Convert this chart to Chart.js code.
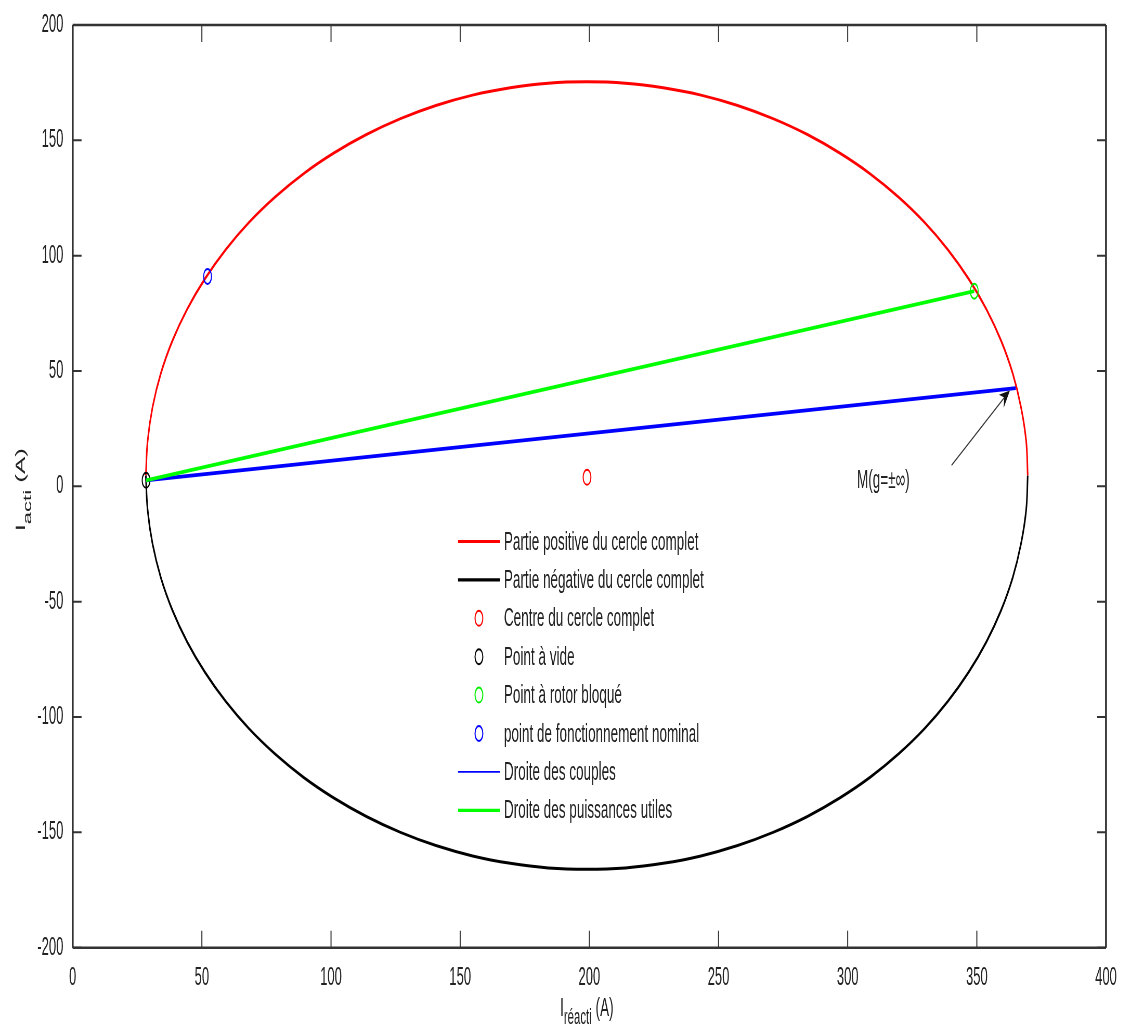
<!DOCTYPE html>
<html>
<head>
<meta charset="utf-8">
<script src="https://cdn.jsdelivr.net/npm/chart.js@4.4.1/dist/chart.umd.min.js"></script>
<style>
  html, body { margin: 0; padding: 0; background: #ffffff; overflow: hidden; }
  #wrap { width: 1121px; height: 1027px; overflow: hidden; position: relative; }
  #c { position: absolute; left: 0; top: 0; transform-origin: 0 0; transform: scaleX(0.52); }
</style>
</head>
<body>
<div id="wrap"><canvas id="c" width="2156" height="1027"></canvas></div>
<script>
// ---------- data ----------
const upperArcX = [28.3, 29.0, 30.9, 34.1, 38.6, 44.3, 51.2, 59.2, 68.2, 78.3, 89.3, 101.1, 113.7, 126.9, 140.6, 154.8, 169.4, 184.1, 199.0,
                   213.9, 228.6, 243.2, 257.4, 271.1, 284.4, 296.9, 308.7, 319.7, 329.8, 338.8, 346.8, 353.7, 359.4, 363.9, 367.1, 369.1, 369.7];
const upperArcY = [4.7, 19.6, 34.3, 48.9, 63.1, 76.8, 90.0, 102.6, 114.4, 125.4, 135.5, 144.5, 152.5, 159.4, 165.1, 169.6, 172.8, 174.8, 175.4,
                   174.8, 172.8, 169.6, 165.1, 159.4, 152.5, 144.5, 135.5, 125.4, 114.4, 102.6, 90.0, 76.8, 63.1, 48.9, 34.3, 19.6, 4.7];
const lowerArcX = [28.3, 29.0, 30.9, 34.1, 38.6, 44.3, 51.2, 59.2, 68.2, 78.3, 89.3, 101.1, 113.7, 126.9, 140.6, 154.8, 169.4, 184.1, 199.0,
                   213.9, 228.6, 243.2, 257.4, 271.1, 284.4, 296.9, 308.7, 319.7, 329.8, 338.8, 346.8, 353.7, 359.4, 363.9, 367.1, 369.1, 369.7];
const lowerArcY = [4.7, -10.2, -24.9, -39.5, -53.7, -67.4, -80.6, -93.2, -105.0, -116.0, -126.1, -135.1, -143.1, -150.0, -155.7, -160.2, -163.4, -165.4, -166.0,
                   -165.4, -163.4, -160.2, -155.7, -150.0, -143.1, -135.1, -126.1, -116.0, -105.0, -93.2, -80.6, -67.4, -53.7, -39.5, -24.9, -10.2, 4.7];

const centrePoint = [199.1, 3.9];
const noLoadPoint = [28.4, 2.6];
const lockedRotorPoint = [349.0, 84.6];
const nominalPoint = [52.2, 91.0];
const torqueLineEnd = [365.1, 42.6];

const legendLabels = [
  'Partie positive du cercle complet',
  'Partie négative du cercle complet',
  'Centre du cercle complet',
  'Point à vide',
  'Point à rotor bloqué',
  'point de fonctionnement nominal',
  'Droite des couples',
  'Droite des puissances utiles'
];

const xTickValues = [0, 50, 100, 150, 200, 250, 300, 350, 400];
const xTickLabels = ['0', '50', '100', '150', '200', '250', '300', '350', '400'];
const yTickValues = [-200, -150, -100, -50, 0, 50, 100, 150, 200];
const yTickLabels = ['-200', '-150', '-100', '-50', '0', '50', '100', '150', '200'];

const annotationText = 'M(g=±∞)';
const annotationTextPos = [303.6, 2.2];
const arrowTail = [340.2, 9.1];
const arrowHead = [362.8, 41.6];

const xTitleMain = 'I', xTitleSub = 'réacti', xTitleUnit = ' (A)';
const yTitleMain = 'I', yTitleSub = 'acti', yTitleUnit = ' (A)';

// ---------- build ----------
const zip = (xs, ys) => xs.map((v, i) => ({ x: v, y: ys[i] }));
const pt = p => [{ x: p[0], y: p[1] }];

const FONT = '"Liberation Sans", Arial, sans-serif';
const TXT = '#222222';
const AX = '#333333';

function lineDs(label, data, color, width, legendWidth, order, tension) {
  return { label, data, showLine: true, borderColor: color, backgroundColor: color,
    borderWidth: width, legendLineWidth: legendWidth, pointRadius: 0, pointHoverRadius: 0,
    tension: tension, fill: false, order };
}
function markerDs(label, data, color, order) {
  return { label, data, showLine: false, pointStyle: 'circle', pointRadius: 7.5,
    pointHoverRadius: 7.5, pointBorderWidth: 2, pointBorderColor: color,
    pointBackgroundColor: 'rgba(0,0,0,0)', borderColor: color, order };
}

const datasets = [
  lineDs(legendLabels[0], zip(upperArcX, upperArcY), '#ff0000', 3, 3.2, 8, 0.4),
  lineDs(legendLabels[1], zip(lowerArcX, lowerArcY), '#000000', 3, 3.2, 7, 0.4),
  markerDs(legendLabels[2], pt(centrePoint), '#ff0000', 6),
  markerDs(legendLabels[3], pt(noLoadPoint), '#000000', 5),
  markerDs(legendLabels[4], pt(lockedRotorPoint), '#00ee00', 4),
  markerDs(legendLabels[5], pt(nominalPoint), '#0000ff', 3),
  lineDs(legendLabels[6], [pt(noLoadPoint)[0], pt(torqueLineEnd)[0]], '#0000ff', 3.8, 1.6, 2, 0),
  lineDs(legendLabels[7], [pt(noLoadPoint)[0], pt(lockedRotorPoint)[0]], '#00ff00', 3.8, 3.2, 1, 0)
];

const TL = 17; // tick length (canvas px)

const decor = {
  id: 'decor',
  beforeDraw(chart) {
    const ctx = chart.ctx;
    ctx.save(); ctx.fillStyle = '#ffffff';
    ctx.fillRect(0, 0, chart.width, chart.height); ctx.restore();
  },
  beforeDatasetsDraw(chart) {
    const { ctx, chartArea: a, scales: { x, y } } = chart;
    ctx.save();
    ctx.strokeStyle = AX; ctx.lineWidth = 2;
    ctx.beginPath();
    xTickValues.forEach(v => {
      const px = x.getPixelForValue(v);
      ctx.moveTo(px, a.bottom); ctx.lineTo(px, a.bottom - TL);
      ctx.moveTo(px, a.top); ctx.lineTo(px, a.top + TL);
    });
    yTickValues.forEach(v => {
      const py = y.getPixelForValue(v);
      ctx.moveTo(a.left, py); ctx.lineTo(a.left + TL, py);
      ctx.moveTo(a.right, py); ctx.lineTo(a.right - TL, py);
    });
    ctx.stroke();
    // frame
    ctx.lineWidth = 2.6;
    ctx.beginPath();
    ctx.moveTo(a.left, a.top); ctx.lineTo(a.right, a.top);
    ctx.moveTo(a.left, a.bottom); ctx.lineTo(a.right, a.bottom);
    ctx.stroke();
    ctx.lineWidth = 3.6;
    ctx.beginPath();
    ctx.moveTo(a.left, a.top); ctx.lineTo(a.left, a.bottom);
    ctx.moveTo(a.right, a.top); ctx.lineTo(a.right, a.bottom);
    ctx.stroke();
    ctx.restore();
  },
  afterDatasetsDraw(chart) {
    const { ctx, scales: { x, y } } = chart;
    ctx.save();
    // ----- legend -----
    const LX0 = 880.8, LX1 = 961.5, LXM = 921, LTX = 969, LTOP = 541.5, LSTEP = 38.4;
    ctx.font = '26px ' + FONT; ctx.textBaseline = 'middle'; ctx.textAlign = 'left';
    chart.data.datasets.forEach((ds, i) => {
      const yy = LTOP + i * LSTEP;
      if (ds.showLine) {
        ctx.strokeStyle = ds.borderColor; ctx.lineWidth = ds.legendLineWidth;
        ctx.beginPath(); ctx.moveTo(LX0, yy); ctx.lineTo(LX1, yy); ctx.stroke();
      } else {
        ctx.strokeStyle = ds.pointBorderColor; ctx.lineWidth = ds.pointBorderWidth;
        ctx.beginPath(); ctx.arc(LXM, yy, ds.pointRadius, 0, Math.PI * 2); ctx.stroke();
      }
      ctx.fillStyle = TXT;
      ctx.fillText(ds.label, LTX, yy + 1);
    });
    // ----- annotation arrow -----
    const tx = x.getPixelForValue(arrowTail[0]), ty = y.getPixelForValue(arrowTail[1]);
    const hx = x.getPixelForValue(arrowHead[0]), hy = y.getPixelForValue(arrowHead[1]);
    const dx = hx - tx, dy = hy - ty, len = Math.hypot(dx, dy);
    const ux = dx / len, uy = dy / len, nx = -uy, ny = ux;
    const AL = 20, AW = 8;
    ctx.strokeStyle = '#333333'; ctx.lineWidth = 1.6;
    ctx.beginPath(); ctx.moveTo(tx, ty); ctx.lineTo(hx - ux * AL * 0.6, hy - uy * AL * 0.6); ctx.stroke();
    ctx.fillStyle = '#111111';
    ctx.beginPath();
    ctx.moveTo(hx, hy);
    ctx.lineTo(hx - ux * AL + nx * AW, hy - uy * AL + ny * AW);
    ctx.lineTo(hx - ux * AL * 0.65, hy - uy * AL * 0.65);
    ctx.lineTo(hx - ux * AL - nx * AW, hy - uy * AL - ny * AW);
    ctx.closePath(); ctx.fill();
    ctx.fillStyle = TXT; ctx.font = '26px ' + FONT; ctx.textBaseline = 'middle'; ctx.textAlign = 'left';
    ctx.fillText(annotationText, x.getPixelForValue(annotationTextPos[0]), y.getPixelForValue(annotationTextPos[1]));
    ctx.restore();
  },
  afterDraw(chart) {
    const { ctx, scales: { x, y } } = chart;
    ctx.save();
    ctx.fillStyle = TXT; ctx.textAlign = 'left'; ctx.textBaseline = 'alphabetic';
    // x title
    let cx = x.getPixelForValue(200) - 56.3;
    ctx.font = '26px ' + FONT; ctx.fillText(xTitleMain, cx, 1016); cx += ctx.measureText(xTitleMain).width;
    ctx.font = '22px ' + FONT; ctx.fillText(xTitleSub, cx, 1024); cx += ctx.measureText(xTitleSub).width;
    ctx.font = '26px ' + FONT; ctx.fillText(xTitleUnit, cx, 1016);
    // y title (rotated)
    ctx.translate(48, y.getPixelForValue(0) + 45);
    ctx.rotate(-Math.PI / 2);
    let cy = 0;
    ctx.font = '26px ' + FONT; ctx.fillText(yTitleMain, cy, 0); cy += ctx.measureText(yTitleMain).width;
    ctx.font = '22px ' + FONT; ctx.fillText(yTitleSub, cy, 12); cy += ctx.measureText(yTitleSub).width;
    ctx.font = '26px ' + FONT; ctx.fillText(yTitleUnit, cy, 0);
    ctx.restore();
  }
};

new Chart(document.getElementById('c'), {
  type: 'scatter',
  data: { datasets },
  plugins: [decor],
  options: {
    responsive: false,
    animation: false,
    devicePixelRatio: 1,
    events: [],
    layout: { padding: { left: 0, right: 2156 - 2126.9, top: 24.3, bottom: 0 } },
    plugins: { legend: { display: false }, tooltip: { enabled: false } },
    scales: {
      x: {
        type: 'linear', min: 0, max: 400,
        afterFit: s => { s.height = 1027 - 947.7; },
        grid: { display: false }, border: { display: false },
        ticks: { stepSize: 50, padding: 7, autoSkip: false, maxRotation: 0,
          color: TXT, font: { family: FONT, size: 25 },
          callback: v => { const i = xTickValues.indexOf(v); return i >= 0 ? xTickLabels[i] : ''; } }
      },
      y: {
        type: 'linear', min: -200, max: 200,
        afterFit: s => { s.width = 139.8; },
        grid: { display: false }, border: { display: false },
        ticks: { stepSize: 50, padding: 10, autoSkip: false,
          color: TXT, font: { family: FONT, size: 25 },
          callback: v => { const i = yTickValues.indexOf(v); return i >= 0 ? yTickLabels[i] : ''; } }
      }
    }
  }
});
</script>
</body>
</html>
